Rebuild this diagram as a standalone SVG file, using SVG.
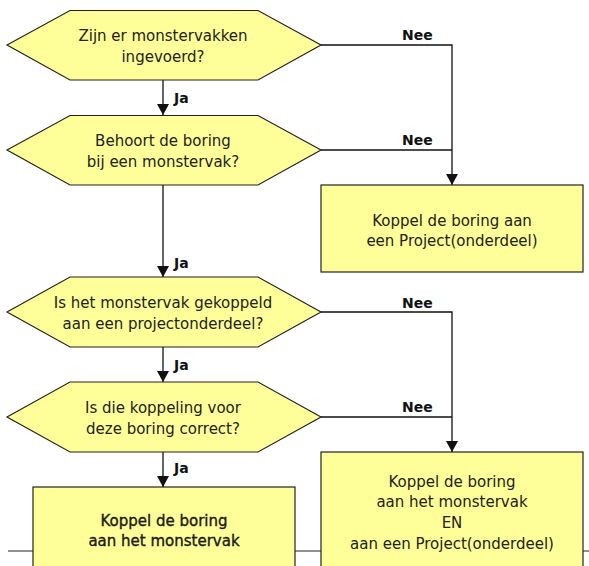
<svg xmlns="http://www.w3.org/2000/svg" width="589" height="566" viewBox="0 0 589 566">
<style>
.shape{fill:#ffff99;stroke:#222;stroke-width:1.2}
.t{font-family:"DejaVu Sans","Liberation Sans",sans-serif;font-size:15px;fill:#222;text-anchor:middle}
.b{stroke:#111;stroke-width:0.35}
.lbl{font-family:"DejaVu Sans","Liberation Sans",sans-serif;font-size:14px;font-weight:bold;fill:#111}
.c{fill:none;stroke:#111;stroke-width:1.3}
.f{fill:none;stroke:#222;stroke-width:1}
</style>
<defs>
<marker id="ah" markerUnits="userSpaceOnUse" markerWidth="12" markerHeight="12" refX="11" refY="6" orient="auto">
<path d="M0,0 L11,6 L0,12 Z" fill="#111"/>
</marker>
</defs>
<line class="f" x1="8" y1="551" x2="589" y2="551"/>
<g id="connectors">
<line class="c" x1="163" y1="80" x2="163" y2="115" marker-end="url(#ah)"/>
<line class="c" x1="163" y1="185" x2="163" y2="277" marker-end="url(#ah)"/>
<line class="c" x1="163" y1="347" x2="163" y2="382" marker-end="url(#ah)"/>
<line class="c" x1="163" y1="452" x2="163" y2="487" marker-end="url(#ah)"/>
<polyline class="c" points="321,45 452,45 452,185" marker-end="url(#ah)"/>
<line class="c" x1="321" y1="150" x2="452" y2="150"/>
<polyline class="c" points="321,312 452,312 452,452" marker-end="url(#ah)"/>
<line class="c" x1="321" y1="417" x2="452" y2="417"/>
<text class="lbl" x="174" y="103">Ja</text>
<text class="lbl" x="174" y="268">Ja</text>
<text class="lbl" x="174" y="370">Ja</text>
<text class="lbl" x="174" y="473">Ja</text>
<text class="lbl" x="402" y="40">Nee</text>
<text class="lbl" x="402" y="145">Nee</text>
<text class="lbl" x="402" y="308">Nee</text>
<text class="lbl" x="402" y="412">Nee</text>
</g>
<g id="q1">
<polygon class="shape" points="7,45 70,10.5 258,10.5 321,45 258,80 70,80"/>
<text class="t" x="163" y="41">Zijn er monstervakken</text>
<text class="t" x="163" y="62">ingevoerd?</text>
</g>
<g id="q2">
<polygon class="shape" points="7,150 70,115.5 258,115.5 321,150 258,185 70,185"/>
<text class="t" x="163" y="146">Behoort de boring</text>
<text class="t" x="163" y="167">bij een monstervak?</text>
</g>
<g id="q3">
<polygon class="shape" points="7,312 70,277 258,277 321,312 258,347 70,347"/>
<text class="t" x="163" y="308">Is het monstervak gekoppeld</text>
<text class="t" x="163" y="329">aan een projectonderdeel?</text>
</g>
<g id="q4">
<polygon class="shape" points="7,417 70,382 258,382 321,417 258,452 70,452"/>
<text class="t" x="163" y="413">Is die koppeling voor</text>
<text class="t" x="163" y="434">deze boring correct?</text>
</g>
<g id="a1">
<rect class="shape" x="321" y="185" width="262" height="87"/>
<text class="t" x="452" y="226">Koppel de boring aan</text>
<text class="t" x="452" y="246">een Project(onderdeel)</text>
</g>
<g id="a2">
<rect class="shape" x="321" y="452" width="262" height="130"/>
<text class="t" x="452" y="487">Koppel de boring</text>
<text class="t" x="452" y="507">aan het monstervak</text>
<text class="t" x="452" y="528">EN</text>
<text class="t" x="452" y="549">aan een Project(onderdeel)</text>
</g>
<g id="a3">
<rect class="shape" x="33" y="487" width="262" height="100"/>
<text class="t b" x="164" y="526">Koppel de boring</text>
<text class="t b" x="164" y="546">aan het monstervak</text>
</g>
</svg>
